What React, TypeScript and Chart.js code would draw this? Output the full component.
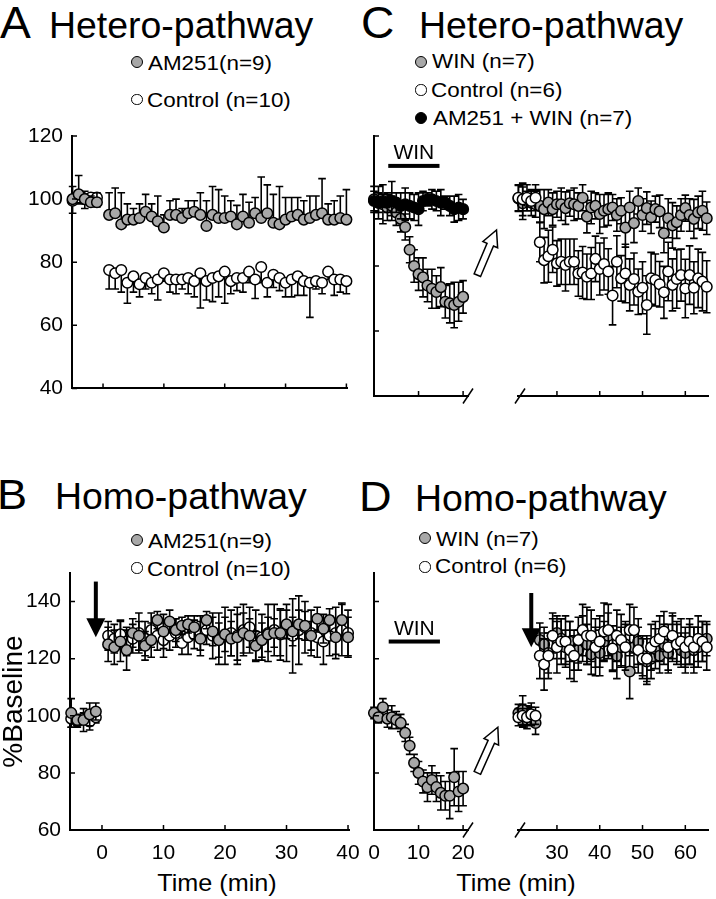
import React, { useEffect, useRef } from 'react';
import { Chart, registerables } from 'chart.js';

Chart.register(...registerables);

const FONT = "'Liberation Sans', Arial, Helvetica, sans-serif";
Chart.defaults.font.family = FONT;
Chart.defaults.color = '#000';

const GRAY = '#a8a8a8';
const WHITE = '#ffffff';
const BLACK = '#000000';

// ---------- time axes (min) ----------
const PRE_POST_TIME = [-5, -4, -3, -2, -1, 1, 2, 3, 4, 5, 6, 7, 8, 9, 10, 11, 12, 13, 14, 15, 16, 17, 18, 19, 20, 21, 22, 23, 24, 25, 26, 27, 28, 29, 30, 31, 32, 33, 34, 35, 36, 37, 38, 39, 40];
const SEG_L_TIME = [0, 1, 2, 3, 4, 5, 6, 7, 8, 9, 10, 11, 12, 13, 14, 15, 16, 17, 18, 19, 20];
const SEG_R_TIME = [21, 22, 23, 24, 25, 26, 27, 28, 29, 30, 31, 32, 33, 34, 35, 36, 37, 38, 39, 40, 41, 42, 43, 44, 45, 46, 47, 48, 49, 50, 51, 52, 53, 54, 55, 56, 57, 58, 59, 60, 61, 62, 63, 64, 65];

// ---------- tick labels ----------
const AB_X_TICKS = [0, 10, 20, 30, 40];
const SEG_L_X_TICKS = [0, 10, 20];
const SEG_R_X_TICKS = [30, 40, 50, 60];
const HETERO_Y_TICKS = [40, 60, 80, 100, 120];
const HOMO_Y_TICKS = [60, 80, 100, 120, 140];

// ---------- Panel A (Hetero-pathway) ----------
const A_AM251 = [100, 101.5, 100, 99, 99, 95, 95.5, 92, 93.5, 93.5, 94, 96, 94.5, 93, 91, 95, 95, 94, 95.5, 96, 95, 91.5, 95, 94, 94, 94.5, 92, 94.5, 92.5, 95.5, 94, 95.5, 92.5, 92, 93.5, 94.5, 95, 93.5, 94, 95, 95.5, 93.5, 93.5, 94, 93.5];
const A_AM251_ERR = [4, 6, 2.5, 2, 3, 7, 8, 10, 5, 3.5, 4.5, 5.5, 4, 8, 4, 4.5, 5, 3, 4, 3.5, 7, 8, 9, 9, 7, 5, 6, 7, 6.5, 5, 13, 9, 9, 12, 7, 6, 5.5, 6, 7, 6, 11, 5, 6, 7, 9.5];
const A_CTRL = [99.5, 100.5, 100, 100.5, 100.5, 77.5, 76.5, 77.5, 73.5, 75.5, 73, 75, 73.5, 74.5, 76.5, 74.5, 74.5, 74.5, 75, 74, 76.5, 74, 75, 75.5, 77, 74, 75, 75, 77, 74.5, 78.5, 73.5, 76, 75, 73.5, 74.5, 75.5, 74, 73.5, 74, 73.5, 77, 74.5, 74.5, 74];
const A_CTRL_ERR = [4, 2, 3, 2, 3, 6, 5, 7, 6.5, 5, 4, 3.5, 3.5, 6.5, 2.5, 4, 4.5, 3, 5, 5, 11, 6, 7.5, 6.5, 10, 4, 4, 4.5, 3.5, 6, 5, 4.5, 4, 4, 4.5, 5.5, 6, 4.5, 11, 2.5, 3.5, 2.5, 5, 4, 4];

// ---------- Panel B (Homo-pathway) ----------
const B_AM251 = [101, 98.5, 98.5, 100.5, 101.5, 125, 124, 126, 123, 129, 128, 124.5, 126.5, 133.5, 129.5, 133, 130, 131.5, 132, 131, 127, 133.5, 129.5, 126.5, 128.5, 127, 127.5, 129, 128, 124.5, 126.5, 128.5, 129, 129, 132, 129.5, 132, 131.5, 128, 134, 130.5, 133.5, 127.5, 133.5, 127.5];
const B_AM251_ERR = [5, 2, 4, 4, 3, 6, 6, 7, 7, 5, 5, 5, 6, 3, 6, 4, 4, 3, 3, 4, 6, 3, 5, 6, 6, 6, 8, 7, 6, 5, 6, 6, 5, 8, 5, 5, 5, 5, 5, 4, 5, 4, 6, 6, 7];
const B_CTRL = [99, 98, 99, 98, 99.5, 128, 127, 128.5, 126, 127, 129, 127, 130, 128, 126.5, 128, 129, 125.5, 127.5, 128.5, 129, 130, 128, 127, 128, 129, 128, 130, 131, 128, 127.5, 129, 130, 128.5, 129, 128, 130, 131, 129, 127.5, 126, 128, 129, 130, 129];
const B_CTRL_ERR = [3, 2, 2, 3, 2, 5, 5, 5, 5, 5, 7, 6, 6, 5, 6, 5, 5, 4, 6, 5, 6, 5, 8, 9, 10, 8, 10, 9, 7, 9, 8, 10, 9, 9, 10, 13, 12, 9, 8, 7, 8, 7, 9, 9, 8];

// ---------- Panel C (Hetero-pathway, WIN) ----------
const C_L_WIN = [100.5, 99.5, 99, 98, 98.5, 96.5, 94.5, 92, 85, 80, 77.5, 76.5, 74, 73, 72, 73.5, 69, 68.5, 68, 69, 70.5];
const C_L_WIN_ERR = [4, 5, 6, 4, 3, 4, 4, 4, 4, 5, 5, 6, 5, 6, 5, 6, 5, 6, 7, 6, 5];
const C_L_AMWIN = [100, 99.5, 100, 99.5, 100, 99.5, 98.5, 99, 98.5, 98, 97.5, 100, 100.5, 100.5, 100, 99.5, 99.5, 98.5, 97.5, 98, 97.5];
const C_L_AMWIN_ERR = [3, 3, 2, 3, 6, 3, 4, 5, 4, 4, 5, 3, 2, 3, 3, 4, 2, 3, 4, 4, 3];
const C_R_WIN = [100.8, 99.3, 100, 99.5, 99, 98.5, 97.5, 99.5, 97.5, 99, 99, 97.8, 99.3, 99, 98.5, 101, 95.2, 98, 98.5, 96, 97, 97.5, 98, 95.7, 97, 91.8, 98, 93.2, 100, 95.7, 97.8, 95, 97.5, 96.8, 90.1, 94.7, 92.5, 93.5, 95.7, 97.8, 95.7, 94.5, 96.5, 97, 94.7];
const C_R_WIN_ERR = [4, 5, 3, 4, 4, 5, 6, 4, 5, 4, 5, 5, 4, 5, 4, 4, 5, 5, 4, 6, 5, 5, 4, 5, 4, 6, 5, 6, 4, 5, 5, 5, 4, 5, 6, 6, 7, 5, 5, 4, 5, 6, 5, 6, 5];
const C_R_CTRL = [101, 100.5, 101, 100, 101, 87.3, 81.8, 83, 85, 80.8, 81.3, 80.3, 81.3, 81.3, 77.7, 78, 76.7, 77.7, 82.2, 79.1, 80.6, 78.3, 70.9, 81.3, 76.2, 77.7, 74.2, 76, 72.1, 73.3, 68, 76.2, 75.7, 74.4, 71.9, 78.3, 74.2, 76, 77.2, 73.1, 77.2, 73.3, 76.2, 75.2, 73.6];
const C_R_CTRL_ERR = [4, 5, 4, 3, 4, 6, 7, 8, 7, 7, 7, 8, 7, 7, 7, 8, 7, 8, 7, 8, 8, 7, 9, 8, 7, 9, 8, 8, 7, 8, 9, 8, 8, 7, 8, 9, 8, 9, 8, 9, 9, 8, 9, 9, 8];

// ---------- Panel D (Homo-pathway, WIN) ----------
const D_L_WIN = [101, 99.5, 103, 99, 99.5, 98.5, 97.5, 94, 89.5, 83.5, 80, 77, 75, 77.5, 75, 73, 72, 72, 78.5, 73.5, 74.5];
const D_L_WIN_ERR = [2, 2, 3, 3, 4, 3, 3, 3, 3, 3, 4, 4, 5, 5, 5, 6, 5, 8, 10, 7, 6];
const D_R_WIN = [101, 102, 99.5, 100, 97.5, 126.5, 125, 122, 128, 129, 127, 124, 126, 122, 123, 127, 125, 121.5, 124, 122, 126, 128, 123, 121, 124, 125, 115.5, 124, 126, 121, 119, 120, 123.5, 121, 125, 122, 127, 126, 123, 122, 125, 123, 124, 126, 127];
const D_R_WIN_ERR = [3, 5, 4, 3, 4, 6, 6, 7, 6, 6, 7, 6, 7, 6, 7, 8, 7, 7, 7, 8, 7, 8, 7, 8, 7, 8, 9.5, 7, 8, 7, 8, 7, 7, 6, 7, 7, 8, 7, 6, 7, 7, 8, 7, 7, 6];
const D_R_CTRL = [99.5, 100, 99.5, 100.5, 100, 121, 118, 121, 128, 124, 126, 126, 123, 121, 126.5, 130, 128, 128, 124, 126, 129.5, 130, 123.5, 128, 126.5, 124, 130, 130, 123, 120, 120, 124, 126, 127, 129.5, 124, 128, 125, 126, 124, 126, 124, 127, 126, 124];
const D_R_CTRL_ERR = [3, 4, 3, 4, 3, 8, 9, 8, 8, 9, 8, 9, 10, 9, 8, 9, 10, 9, 10, 9, 10, 9, 8, 9, 9, 8, 9, 8, 8, 7, 8, 8, 7, 8, 7, 8, 8, 7, 8, 7, 8, 7, 8, 7, 8];

function series(label: string, times: number[], values: number[], errors: number[], fill: string, dir: string) {
  return {
    label,
    data: times.map((t, i) => ({ x: t, y: values[i] })),
    errors,
    errDir: dir,
    showLine: false,
    clip: false,
    pointRadius: 5.3,
    pointHoverRadius: 5.3,
    pointBorderWidth: 1.5,
    pointBackgroundColor: fill,
    pointBorderColor: BLACK,
    backgroundColor: fill,
    borderColor: BLACK,
  };
}

function hollowArrow(ctx: any, x1: number, y1: number, x2: number, y2: number) {
  const dx = x2 - x1, dy = y2 - y1;
  const len = Math.hypot(dx, dy);
  const ux = dx / len, uy = dy / len;
  const nx = -uy, ny = ux;
  const headL = 16, headW = 8, shaftW = 3.5;
  const bx = x2 - ux * headL, by = y2 - uy * headL;
  ctx.beginPath();
  ctx.moveTo(x1 + nx * shaftW, y1 + ny * shaftW);
  ctx.lineTo(bx + nx * shaftW, by + ny * shaftW);
  ctx.lineTo(bx + nx * headW, by + ny * headW);
  ctx.lineTo(x2, y2);
  ctx.lineTo(bx - nx * headW, by - ny * headW);
  ctx.lineTo(bx - nx * shaftW, by - ny * shaftW);
  ctx.lineTo(x1 - nx * shaftW, y1 - ny * shaftW);
  ctx.closePath();
  ctx.fillStyle = '#fff';
  ctx.fill();
  ctx.lineWidth = 1.5;
  ctx.strokeStyle = '#000';
  ctx.stroke();
}

function solidArrow(ctx: any, x: number, yTop: number, yTip: number) {
  const headL = 19, headW = 9.5;
  ctx.fillStyle = '#000';
  ctx.strokeStyle = '#000';
  ctx.lineWidth = 4;
  ctx.beginPath();
  ctx.moveTo(x, yTop);
  ctx.lineTo(x, yTip - headL + 2);
  ctx.stroke();
  ctx.beginPath();
  ctx.moveTo(x - headW, yTip - headL);
  ctx.lineTo(x + headW, yTip - headL);
  ctx.lineTo(x, yTip);
  ctx.closePath();
  ctx.fill();
}

function makeOverlay(spec: any) {
  return {
    id: 'overlay_' + spec.id,
    beforeDatasetDraw(chart: any, args: any) {
      const ds: any = chart.data.datasets[args.index];
      if (!ds.errors) return;
      const xs = chart.scales.x, ys = chart.scales.y;
      const ctx = chart.ctx;
      ctx.save();
      ctx.strokeStyle = '#000';
      ctx.lineWidth = 1.6;
      ctx.beginPath();
      ds.data.forEach((p: any, j: number) => {
        const e = ds.errors[j];
        if (!e) return;
        const px = xs.getPixelForValue(p.x);
        const py = ys.getPixelForValue(p.y);
        const ends: number[] = [];
        if (ds.errDir !== 'down') ends.push(ys.getPixelForValue(p.y + e));
        if (ds.errDir !== 'up') ends.push(ys.getPixelForValue(p.y - e));
        for (const ey of ends) {
          ctx.moveTo(px, py);
          ctx.lineTo(px, ey);
          ctx.moveTo(px - 3.8, ey);
          ctx.lineTo(px + 3.8, ey);
        }
      });
      ctx.stroke();
      ctx.restore();
    },
    afterDraw(chart: any) {
      const ctx = chart.ctx;
      const a = chart.chartArea;
      const xs = chart.scales.x, ys = chart.scales.y;
      ctx.save();
      ctx.strokeStyle = '#000';
      ctx.lineWidth = 1.5;
      ctx.beginPath();
      xs.ticks.forEach((t: any) => {
        const x = xs.getPixelForValue(t.value);
        ctx.moveTo(x, a.bottom);
        ctx.lineTo(x, a.bottom - 5);
      });
      if (spec.yShow) {
        ys.ticks.forEach((t: any) => {
          const y = ys.getPixelForValue(t.value);
          ctx.moveTo(a.left, y);
          ctx.lineTo(a.left + 5, y);
        });
      }
      ctx.stroke();
      const slash = (cx: number) => {
        ctx.beginPath();
        ctx.lineWidth = 1.5;
        ctx.moveTo(cx - 5, a.bottom + 7.5);
        ctx.lineTo(cx + 5, a.bottom - 7.5);
        ctx.stroke();
      };
      if (spec.breakRight) slash(a.right);
      if (spec.breakLeft) slash(a.left + 2);
      if (spec.win) {
        const w = spec.win;
        const x1 = xs.getPixelForValue(w.x1), x2 = xs.getPixelForValue(w.x2);
        const y = ys.getPixelForValue(w.y);
        ctx.fillStyle = '#000';
        ctx.fillRect(x1, y - 2, x2 - x1, 4);
        ctx.font = '21px ' + FONT;
        ctx.textAlign = 'center';
        ctx.textBaseline = 'alphabetic';
        ctx.fillText(w.label, (x1 + x2) / 2, y - 6.5);
      }
      (spec.arrows || []).forEach((ar: any) => {
        if (ar.kind === 'solid') {
          solidArrow(ctx, xs.getPixelForValue(ar.x), ys.getPixelForValue(ar.y1), ys.getPixelForValue(ar.y2));
        } else {
          hollowArrow(ctx, xs.getPixelForValue(ar.x1), ys.getPixelForValue(ar.y1), xs.getPixelForValue(ar.x2), ys.getPixelForValue(ar.y2));
        }
      });
      ctx.restore();
    },
  };
}

function buildConfig(s: any) {
  const [bl, bt, bw, bh] = s.box;
  const [l, t, r, b] = s.area;
  return {
    type: 'scatter',
    data: { datasets: s.datasets },
    plugins: [makeOverlay(s)],
    options: {
      animation: false,
      responsive: false,
      maintainAspectRatio: false,
      events: [],
      layout: { padding: { left: s.yShow ? 0 : l - bl, right: bl + bw - r, top: t - bt, bottom: 0 } },
      plugins: { legend: { display: false }, tooltip: { enabled: false }, title: { display: false } },
      scales: {
        x: {
          type: 'linear',
          position: 'bottom',
          min: s.xMin,
          max: s.xMax,
          afterBuildTicks: (sc: any) => { sc.ticks = s.xTicks.map((v: number) => ({ value: v })); },
          afterFit: (sc: any) => { sc.height = bt + bh - b; },
          grid: { display: false, drawTicks: false },
          border: { display: true, color: '#000', width: 2 },
          ticks: { display: s.xLabels, color: '#000', padding: 11, maxRotation: 0, minRotation: 0, autoSkip: false, font: { size: 21, family: FONT } },
        },
        y: {
          type: 'linear',
          position: 'left',
          display: s.yShow,
          min: s.yMin,
          max: s.yMax,
          afterBuildTicks: (sc: any) => { sc.ticks = s.yTicks.map((v: number) => ({ value: v })); },
          afterFit: (sc: any) => { sc.width = l - bl; },
          grid: { display: false, drawTicks: false },
          border: { display: true, color: '#000', width: 2 },
          ticks: { display: s.yLabels, color: '#000', padding: 9, font: { size: 21, family: FONT } },
          title: s.yTitle
            ? { display: true, text: s.yTitle, color: '#000', font: { size: 28, family: FONT, lineHeight: 1 }, padding: 0 }
            : { display: false },
        },
      },
    },
  };
}

const SPECS: any[] = [
  {
    id: 'A', box: [0, 110, 372, 300], area: [72, 136, 347, 396],
    xMin: -5.1, xMax: 40.1, xTicks: AB_X_TICKS, xLabels: false,
    yMin: 40, yMax: 120, yTicks: HETERO_Y_TICKS, yLabels: true, yShow: true,
    datasets: [
      series('AM251(n=9)', PRE_POST_TIME, A_AM251, A_AM251_ERR, GRAY, 'up'),
      series('Control (n=10)', PRE_POST_TIME, A_CTRL, A_CTRL_ERR, WHITE, 'down'),
    ],
  },
  {
    id: 'CL', box: [354, 110, 156, 300], area: [374, 136, 468, 396],
    xMin: 0, xMax: 21.1, xTicks: SEG_L_X_TICKS, xLabels: false,
    yMin: 40, yMax: 120, yTicks: HETERO_Y_TICKS, yLabels: false, yShow: true,
    breakRight: true,
    win: { x1: 3.2, x2: 14.7, y: 110.8, label: 'WIN' },
    arrows: [{ kind: 'hollow', x1: 23.2, y1: 77.2, x2: 27.5, y2: 91.1 }],
    datasets: [
      series('AM251 + WIN (n=7)', SEG_L_TIME, C_L_AMWIN, C_L_AMWIN_ERR, BLACK, 'both'),
      series('WIN (n=7)', SEG_L_TIME, C_L_WIN, C_L_WIN_ERR, GRAY, 'both'),
    ],
  },
  {
    id: 'CR', box: [498, 110, 218, 300], area: [508, 136, 708, 396],
    xMin: 20.9, xMax: 65.3, xTicks: SEG_R_X_TICKS, xLabels: false,
    yMin: 40, yMax: 120, yTicks: HETERO_Y_TICKS, yLabels: false, yShow: false,
    breakLeft: true,
    datasets: [
      series('Control (n=6)', SEG_R_TIME, C_R_CTRL, C_R_CTRL_ERR, WHITE, 'both'),
      series('WIN (n=7)', SEG_R_TIME, C_R_WIN, C_R_WIN_ERR, GRAY, 'both'),
    ],
  },
  {
    id: 'B', box: [0, 530, 372, 369], area: [70, 573, 349, 830],
    xMin: -5.2, xMax: 40.16, xTicks: AB_X_TICKS, xLabels: true,
    yMin: 60, yMax: 150, yTicks: HOMO_Y_TICKS, yLabels: true, yShow: true, yTitle: '%Baseline',
    arrows: [{ kind: 'solid', x: -1, y1: 147, y2: 127.5 }],
    datasets: [
      series('AM251(n=9)', PRE_POST_TIME, B_AM251, B_AM251_ERR, GRAY, 'both'),
      series('Control (n=10)', PRE_POST_TIME, B_CTRL, B_CTRL_ERR, WHITE, 'both'),
    ],
  },
  {
    id: 'DL', box: [354, 530, 156, 369], area: [374, 573, 468, 830],
    xMin: 0, xMax: 21.1, xTicks: SEG_L_X_TICKS, xLabels: true,
    yMin: 60, yMax: 150, yTicks: HOMO_Y_TICKS, yLabels: false, yShow: true,
    breakRight: true,
    win: { x1: 3.3, x2: 14.8, y: 126, label: 'WIN' },
    arrows: [{ kind: 'hollow', x1: 23.2, y1: 80, x2: 27.8, y2: 96 }],
    datasets: [
      series('WIN (n=7)', SEG_L_TIME, D_L_WIN, D_L_WIN_ERR, GRAY, 'both'),
    ],
  },
  {
    id: 'DR', box: [498, 530, 218, 369], area: [508, 573, 708, 830],
    xMin: 20.9, xMax: 65.3, xTicks: SEG_R_X_TICKS, xLabels: true,
    yMin: 60, yMax: 150, yTicks: HOMO_Y_TICKS, yLabels: false, yShow: false,
    breakLeft: true,
    arrows: [{ kind: 'solid', x: 24, y1: 143, y2: 124 }],
    datasets: [
      series('Control (n=6)', SEG_R_TIME, D_R_CTRL, D_R_CTRL_ERR, WHITE, 'both'),
      series('WIN (n=7)', SEG_R_TIME, D_R_WIN, D_R_WIN_ERR, GRAY, 'both'),
    ],
  },
];

function ChartCanvas({ spec }: { spec: any }) {
  const ref = useRef<HTMLCanvasElement>(null);
  useEffect(() => {
    const chart = new Chart(ref.current as any, buildConfig(spec) as any);
    return () => chart.destroy();
  }, [spec]);
  const [left, top, width, height] = spec.box;
  return (
    <canvas
      ref={ref}
      width={width}
      height={height}
      style={{ position: 'absolute', left, top, width, height }}
    />
  );
}

function Txt({ x, baseline, size, text, sx = 1, center = false }: any) {
  const top = baseline - 0.8465 * size;
  if (center) {
    return (
      <div style={{ position: 'absolute', left: x - 150, top, width: 300, textAlign: 'center', fontSize: size, lineHeight: 1, whiteSpace: 'nowrap', transform: `scaleX(${sx})`, transformOrigin: 'center' }}>{text}</div>
    );
  }
  return (
    <div style={{ position: 'absolute', left: x, top, fontSize: size, lineHeight: 1, whiteSpace: 'nowrap', transform: `scaleX(${sx})`, transformOrigin: 'left' }}>{text}</div>
  );
}

function Dot({ cx, cy, r, fill }: any) {
  return (
    <div style={{ position: 'absolute', left: cx - r, top: cy - r, width: 2 * r, height: 2 * r, borderRadius: '50%', background: fill, border: '1.5px solid #000', boxSizing: 'border-box' }} />
  );
}

const LEGENDS = [
  { cx: 137, cy: 62, r: 6.3, fill: GRAY, x: 148, baseline: 69.5, text: 'AM251(n=9)' },
  { cx: 137, cy: 99.5, r: 5.6, fill: WHITE, x: 146.5, baseline: 106.5, text: 'Control (n=10)' },
  { cx: 421, cy: 62, r: 6.3, fill: GRAY, x: 432, baseline: 68, text: 'WIN (n=7)' },
  { cx: 421, cy: 90, r: 5.6, fill: WHITE, x: 430.5, baseline: 96.5, text: 'Control (n=6)' },
  { cx: 421, cy: 118, r: 6.3, fill: BLACK, x: 432.5, baseline: 125, text: 'AM251 + WIN (n=7)' },
  { cx: 137, cy: 540, r: 6.3, fill: GRAY, x: 148, baseline: 548, text: 'AM251(n=9)' },
  { cx: 137, cy: 568, r: 5.6, fill: WHITE, x: 146.5, baseline: 576, text: 'Control (n=10)' },
  { cx: 425, cy: 538, r: 6.3, fill: GRAY, x: 436, baseline: 546, text: 'WIN (n=7)' },
  { cx: 425, cy: 567, r: 5.6, fill: WHITE, x: 434.5, baseline: 573, text: 'Control (n=6)' },
];

const TITLES = [
  { x: 0, baseline: 38.3, size: 44, text: 'A', sx: 1.05 },
  { x: 49, baseline: 38.3, size: 36, text: 'Hetero-pathway', sx: 1.04 },
  { x: 361, baseline: 38.3, size: 44, text: 'C', sx: 1.05 },
  { x: 419, baseline: 38.3, size: 36, text: 'Hetero-pathway', sx: 1.04 },
  { x: -3, baseline: 509.5, size: 43, text: 'B', sx: 1.05 },
  { x: 55, baseline: 509, size: 36, text: 'Homo-pathway', sx: 1.04 },
  { x: 358.5, baseline: 511.5, size: 43, text: 'D', sx: 1.05 },
  { x: 415, baseline: 511.5, size: 36, text: 'Homo-pathway', sx: 1.04 },
];

export default function App() {
  return (
    <div style={{ position: 'absolute', left: 0, top: 0, width: 716, height: 899, background: '#fff', color: '#000', fontFamily: FONT, overflow: 'hidden' }}>
      {TITLES.map((t, i) => (
        <Txt key={'t' + i} x={t.x} baseline={t.baseline} size={t.size} text={t.text} sx={t.sx} />
      ))}
      {LEGENDS.map((g, i) => (
        <React.Fragment key={'g' + i}>
          <Dot cx={g.cx} cy={g.cy} r={g.r} fill={g.fill} />
          <Txt x={g.x} baseline={g.baseline} size={20} text={g.text} sx={1.12} />
        </React.Fragment>
      ))}
      <Txt x={217} baseline={891.7} size={24} text="Time (min)" sx={1.05} center />
      <Txt x={516} baseline={891.7} size={24} text="Time (min)" sx={1.05} center />
      {SPECS.map((s) => (
        <ChartCanvas key={s.id} spec={s} />
      ))}
    </div>
  );
}
